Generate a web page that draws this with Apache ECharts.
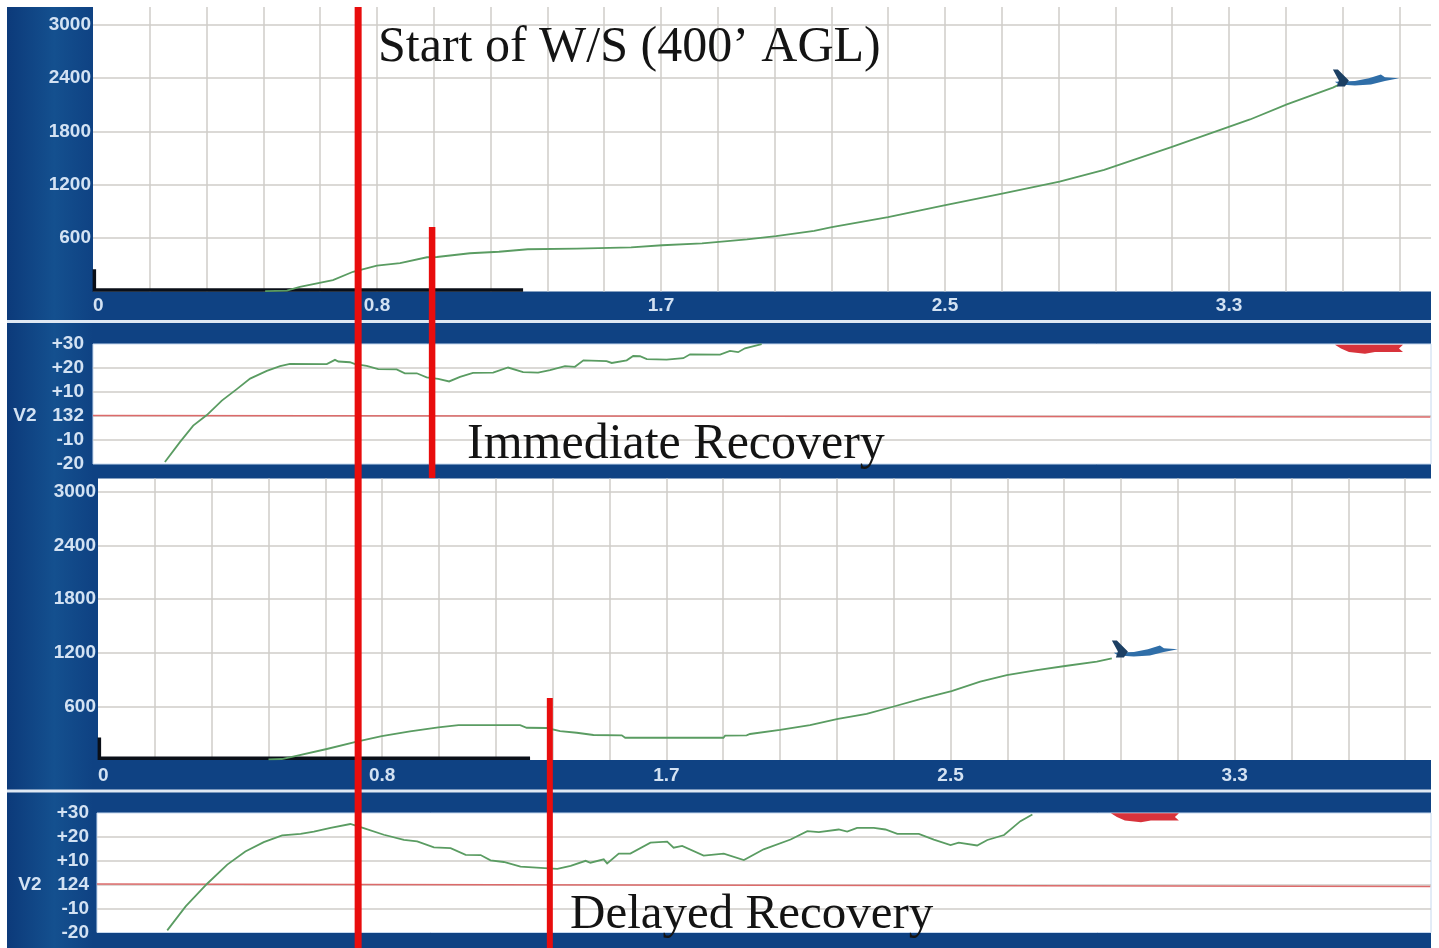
<!DOCTYPE html>
<html>
<head>
<meta charset="utf-8">
<title>Windshear recovery</title>
<style>
  html, body { margin: 0; padding: 0; background: #fff; }
  #chart { width: 1439px; height: 948px; }
</style>
<script src="https://cdn.jsdelivr.net/npm/echarts@6/dist/echarts.min.js"></script>
</head>
<body>
<div id="chart"></div>
<script>
// tick values and labels
var distTicks = [0, 5 / 6, 10 / 6, 15 / 6, 20 / 6];
var distLabels = ['0', '0.8', '1.7', '2.5', '3.3'];
var altTicks = [600, 1200, 1800, 2400, 3000];
var speedTicks = [-20, -10, 0, 10, 20, 30];
var speedLabelsImmediate = ['-20', '-10', 'V2   132', '+10', '+20', '+30'];
var speedLabelsDelayed = ['-20', '-10', 'V2   124', '+10', '+20', '+30'];

// immediate recovery: altitude
var immAltX = [0.505, 0.569, 0.607, 0.704, 0.763, 0.833, 0.901, 0.980, 1.009, 1.106, 1.191, 1.276, 1.420, 1.579, 1.670, 1.787, 1.919, 2.004, 2.116, 2.168, 2.333, 2.494, 2.664, 2.836, 2.967, 3.166, 3.395, 3.503, 3.638, 3.658];
var immAltY = [5, 9, 51, 129, 222, 290, 320, 385, 388, 430, 447, 475, 482, 497, 520, 542, 587, 624, 683, 725, 837, 965, 1097, 1236, 1367, 1626, 1935, 2104, 2293, 2330];

// immediate recovery: speed
var immSpdX = [0.211, 0.255, 0.294, 0.334, 0.378, 0.422, 0.461, 0.510, 0.549, 0.578, 0.686, 0.710, 0.720, 0.754, 0.769, 0.803, 0.837, 0.891, 0.915, 0.950, 0.979, 1.013, 1.045, 1.077, 1.115, 1.174, 1.218, 1.262, 1.306, 1.341, 1.385, 1.414, 1.439, 1.507, 1.522, 1.566, 1.585, 1.605, 1.625, 1.683, 1.732, 1.752, 1.840, 1.869, 1.893, 1.913, 1.962];
var immSpdY = [-19.2, -10.9, -4.0, 0.4, 6.4, 11.2, 15.6, 18.8, 20.8, 21.7, 21.6, 23.4, 22.7, 22.4, 21.6, 20.9, 19.5, 19.4, 17.8, 17.8, 16.1, 15.5, 14.4, 16.3, 18.0, 18.1, 20.2, 18.3, 18.1, 19.1, 20.8, 20.5, 23.2, 22.9, 22.1, 23.2, 25.0, 24.9, 23.7, 23.5, 24.1, 25.7, 25.6, 27.1, 26.6, 28.2, 29.9];

// delayed recovery: altitude
var delAltX = [0.500, 0.539, 0.572, 0.671, 0.759, 0.832, 0.915, 0.998, 1.057, 1.238, 1.257, 1.316, 1.355, 1.404, 1.453, 1.536, 1.546, 1.834, 1.839, 1.902, 1.912, 2.000, 2.088, 2.170, 2.254, 2.331, 2.419, 2.503, 2.587, 2.665, 2.753, 2.836, 2.929, 2.973];
var delAltY = [5, 10, 36, 122, 204, 267, 320, 365, 390, 390, 360, 357, 323, 304, 279, 275, 248, 248, 271, 275, 290, 335, 390, 458, 514, 595, 689, 771, 875, 950, 1006, 1051, 1099, 1137];

// delayed recovery: speed
var delSpdX = [0.206, 0.260, 0.323, 0.382, 0.435, 0.489, 0.543, 0.597, 0.636, 0.685, 0.743, 0.782, 0.841, 0.900, 0.939, 0.988, 1.037, 1.081, 1.125, 1.154, 1.193, 1.242, 1.301, 1.350, 1.389, 1.433, 1.447, 1.486, 1.496, 1.530, 1.564, 1.623, 1.672, 1.691, 1.716, 1.779, 1.838, 1.897, 1.955, 2.034, 2.083, 2.117, 2.175, 2.200, 2.229, 2.278, 2.312, 2.347, 2.410, 2.454, 2.503, 2.527, 2.581, 2.611, 2.660, 2.708, 2.743];
var delSpdY = [-19.1, -9.1, 0.4, 8.4, 13.9, 17.8, 20.6, 21.3, 22.2, 23.8, 25.4, 23.7, 20.9, 18.8, 18.1, 15.6, 15.3, 12.5, 12.4, 10.2, 9.5, 7.6, 7.0, 6.6, 7.9, 10.0, 9.2, 10.6, 8.9, 13.0, 13.0, 17.6, 18.0, 15.5, 16.2, 12.2, 13.0, 10.3, 14.8, 18.9, 22.4, 22.0, 23.1, 22.2, 23.8, 23.8, 23.1, 21.3, 21.3, 18.9, 16.6, 17.6, 16.4, 18.7, 20.8, 26.6, 29.4];

// runway bar, aircraft and stall marks
var runwayX = [0.004, 0.004, 1.262];
var runwayY = [250, 18, 18];
var delRunwayX = [0.004, 0.004, 1.267];
var immAircraft = [3.732, 2390];
var delAircraft = [3.067, 1230];
var immStall = [3.744, 27.8];
var delStall = [3.073, 28];
var refLineImmX = [0, 3.924];
var refLineDelX = [0, 3.91];
var refLineImmY = [0.2, -0.4];
var refLineDelY = [0.3, -0.8];

// red event markers (x on the distance axis of their panel)
var windshearStart = 0.778;
var immediateRecovery = 0.995;
var delayedRecovery = 1.325;

var BLUE = '#0f4283';
var LABEL = '#d3e2f3';
var GRID = '#cfcdc8';
var GREEN = '#5a9c62';
var RED = '#e80d0d';

var TAIL = 'path://M0 0 L5 0 L16 11 L12 17 L4 17 L6 11 Z';
var BODY = 'path://M0 8 L20 7 L34 4 L46 0 L50 3 L64 4 L50 7 L36 11 L20 12 L4 11 Z';
var STALL = 'path://M0 0 L68 0 L64 4 L68 8 L40 8 L30 10 L14 8 L6 4 Z';

function zip(xs, ys) {
  return xs.map(function (x, i) { return [x, ys[i]]; });
}

function xAxisFor(gridIndex, max, showLabels, margin) {
  return {
    type: 'value',
    gridIndex: gridIndex,
    min: 0,
    max: max,
    interval: 1 / 6,
    axisLine: { show: false },
    axisTick: { show: false },
    splitLine: {
      show: showLabels,
      showMinLine: false,
      showMaxLine: false,
      lineStyle: { color: GRID, width: 1.5 }
    },
    axisLabel: {
      show: showLabels,
      customValues: distTicks,
      alignMinLabel: 'left',
      margin: margin,
      color: LABEL,
      fontFamily: 'Liberation Sans',
      fontWeight: 'bold',
      fontSize: 19,
      formatter: function (v) {
        var i = distTicks.findIndex(function (t) { return Math.abs(t - v) < 1e-6; });
        return i < 0 ? '' : distLabels[i];
      }
    }
  };
}

function altAxis(gridIndex, max, margin) {
  return {
    type: 'value',
    gridIndex: gridIndex,
    min: 0,
    max: max,
    interval: 600,
    axisLine: { show: false },
    axisTick: { show: false },
    splitLine: {
      showMinLine: false,
      showMaxLine: false,
      lineStyle: { color: GRID, width: 1.5 }
    },
    axisLabel: {
      customValues: altTicks,
      margin: margin,
      color: LABEL,
      fontFamily: 'Liberation Sans',
      fontWeight: 'bold',
      fontSize: 19,
      formatter: function (v) { return String(v); }
    }
  };
}

function speedAxis(gridIndex, labels, margin) {
  return {
    type: 'value',
    gridIndex: gridIndex,
    min: -20,
    max: 30,
    interval: 10,
    axisLine: { show: false },
    axisTick: { show: false },
    splitLine: {
      showMinLine: false,
      showMaxLine: false,
      lineStyle: { color: GRID, width: 1.5 }
    },
    axisLabel: {
      customValues: speedTicks,
      margin: margin,
      color: LABEL,
      fontFamily: 'Liberation Sans',
      fontWeight: 'bold',
      fontSize: 19,
      formatter: function (v) { return labels[speedTicks.indexOf(v)]; }
    }
  };
}

function lineOn(index, name, data, color, width) {
  return {
    name: name,
    type: 'line',
    xAxisIndex: index,
    yAxisIndex: index,
    data: data,
    symbol: 'none',
    silent: true,
    lineStyle: { color: color, width: width, cap: 'butt', join: 'miter' }
  };
}

function iconOn(index, point, symbol, size, color, offset) {
  return {
    type: 'scatter',
    xAxisIndex: index,
    yAxisIndex: index,
    data: [point],
    symbol: symbol,
    symbolSize: size,
    symbolOffset: offset || [0, 0],
    symbolKeepAspect: false,
    silent: true,
    z: 5,
    itemStyle: { color: color, opacity: 1 }
  };
}

// red vertical bar: x comes from the axis, the vertical span is page layout
function eventBar(index, value, top, bottom, width) {
  return {
    type: 'custom',
    xAxisIndex: index,
    yAxisIndex: index,
    data: [[value, 0]],
    encode: { x: 0, y: 1 },
    clip: false,
    silent: true,
    z: 10,
    renderItem: function (params, api) {
      var x = api.coord([api.value(0), 0])[0];
      return {
        type: 'rect',
        shape: { x: x - width / 2, y: top, width: width, height: bottom - top },
        style: { fill: RED }
      };
    }
  };
}

function note(text, x, y, size) {
  return {
    type: 'text',
    left: x,
    top: y,
    z: 20,
    style: {
      text: text,
      fill: '#141414',
      font: size + 'px "Liberation Serif"'
    }
  };
}

var chart = echarts.init(document.getElementById('chart'));

chart.setOption({
  animation: false,
  backgroundColor: '#fff',
  grid: [
    { left: 93, right: 8, top: 7, height: 284.5, show: true, backgroundColor: '#fff', borderWidth: 0 },
    { left: 93, right: 8, top: 344, height: 120, show: true, backgroundColor: '#fff', borderWidth: 1, borderColor: '#c6d8ee' },
    { left: 98, right: 8, top: 478.5, height: 281.4, show: true, backgroundColor: '#fff', borderWidth: 0 },
    { left: 97, right: 8, top: 813, height: 119.5, show: true, backgroundColor: '#fff', borderWidth: 1, borderColor: '#c6d8ee' }
  ],
  xAxis: [
    xAxisFor(0, 3.926, true, 5),
    xAxisFor(1, 3.926, false, 5),
    xAxisFor(2, 3.909, true, 6),
    xAxisFor(3, 3.912, false, 5)
  ],
  yAxis: [
    altAxis(0, 3200, 2),
    speedAxis(1, speedLabelsImmediate, 9),
    altAxis(2, 3150, 2),
    speedAxis(3, speedLabelsDelayed, 8)
  ],
  series: [
    lineOn(0, 'Runway', zip(runwayX, runwayY), '#0a0f18', 3.5),
    lineOn(0, 'Altitude', zip(immAltX, immAltY), GREEN, 1.8),
    iconOn(0, immAircraft, BODY, [64, 11], '#2f6ea8', [2, 1]),
    iconOn(0, immAircraft, TAIL, [16, 17], '#1c3f63', [-24, -1]),
    lineOn(1, 'V2', zip(refLineImmX, refLineImmY), '#dc6a6a', 1.5),
    lineOn(1, 'Speed', zip(immSpdX, immSpdY), GREEN, 1.8),
    iconOn(1, immStall, STALL, [68, 9], '#d8333b'),
    lineOn(2, 'Runway', zip(delRunwayX, runwayY), '#0a0f18', 3.5),
    lineOn(2, 'Altitude', zip(delAltX, delAltY), GREEN, 1.8),
    iconOn(2, delAircraft, BODY, [64, 11], '#2f6ea8', [2, 1]),
    iconOn(2, delAircraft, TAIL, [16, 17], '#1c3f63', [-24, -1]),
    lineOn(3, 'V2', zip(refLineDelX, refLineDelY), '#dc6a6a', 1.5),
    lineOn(3, 'Speed', zip(delSpdX, delSpdY), GREEN, 1.8),
    iconOn(3, delStall, STALL, [68, 9], '#d8333b'),
    eventBar(0, windshearStart, 7, 948, 7),
    eventBar(0, immediateRecovery, 227, 478, 6.5),
    eventBar(2, delayedRecovery, 698, 948, 6)
  ],
  graphic: [
    { type: 'rect', z: -10, shape: { x: 7, y: 7, width: 1424, height: 941 }, style: { fill: BLUE } },
    {
      type: 'rect', z: -9, shape: { x: 7, y: 7, width: 86, height: 941 },
      style: {
        fill: new echarts.graphic.LinearGradient(0, 0, 1, 0, [
          { offset: 0, color: '#0c3a7a' },
          { offset: 0.55, color: '#14508f' },
          { offset: 1, color: '#0f4283' }
        ])
      }
    },
    { type: 'rect', z: -8, shape: { x: 7, y: 320, width: 1424, height: 3 }, style: { fill: '#dfe8f3' } },
    { type: 'rect', z: -8, shape: { x: 7, y: 789.5, width: 1424, height: 3 }, style: { fill: '#dfe8f3' } },
    note('Start of W/S (400\u2019 AGL)', 378, 23, 50),
    note('Immediate Recovery', 467, 420, 50),
    note('Delayed Recovery', 570, 891, 49)
  ]
});
</script>
</body>
</html>
